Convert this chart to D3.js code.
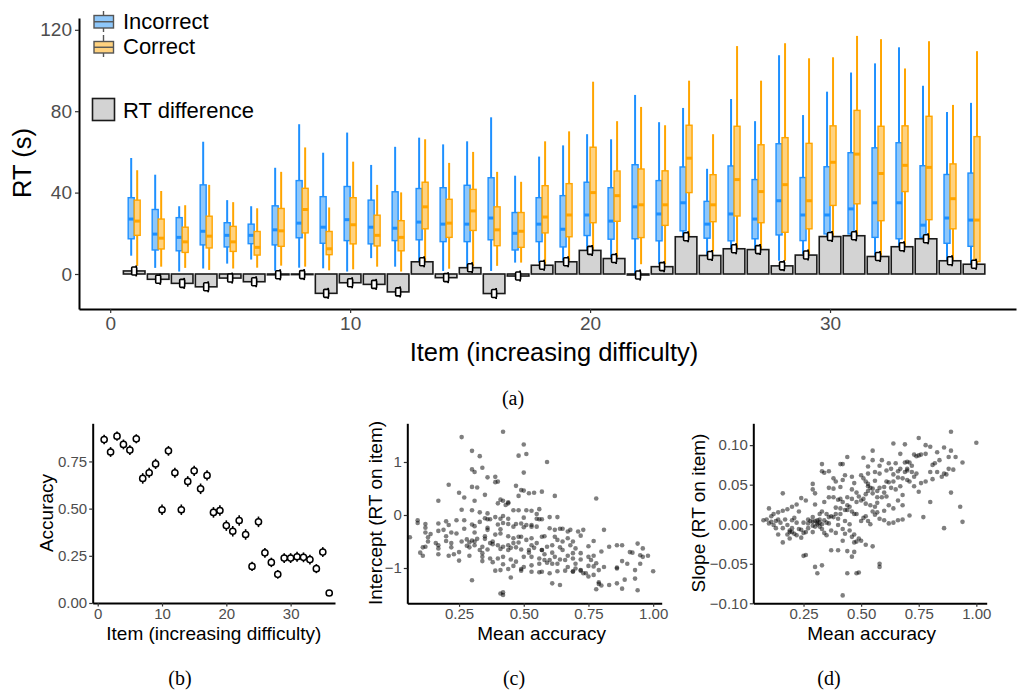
<!DOCTYPE html>
<html>
<head>
<meta charset="utf-8">
<script src="https://cdn.jsdelivr.net/npm/d3@7"></script>
<style>
  body { margin: 0; background: #fff; }
  text { font-family: "Liberation Sans", Arial, sans-serif; }
  .cap { font-family: "Liberation Serif", "DejaVu Serif", serif; }
</style>
</head>
<body>
<svg id="main-svg"></svg>
<script>
// DATA
const ITEMS = [1,2,3,4,5,6,7,8,9,10,11,12,13,14,15,16,17,18,19,20,21,22,23,24,25,26,27,28,29,30,31,32,33,34,35,36]

// incorrect responses: whisker low, q1, median, q3, whisker high (s)
const INC_LOW  = [9,3,1.2,2.7,5.1,7.1,1.6,3.1,2.8,1.2,7.8,3.6,4,1.5,3.1,1.5,5.6,5.6,6.5,11.4,8.1,0,4.8,18,9.3,11.4,12.3,6.5,9.8,18.4,18.8,9,13.4,17.3,6.1,4.8]
const INC_Q1   = [17.3,11.8,11.4,14.3,13.3,14.9,14.3,17.8,15.1,16.4,14.8,16.4,16.8,15.9,15.9,16.8,11.8,15.9,13.3,18.9,17.1,17.3,16.3,21.2,17.6,16.3,17.3,19.2,16.4,19.7,19.7,18,17.3,18,15.1,13.6]
const INC_MED  = [27,19.6,18,21,19,19,21.7,25,23,26.7,23,22.5,25.5,24.5,24.5,27.5,20,24.5,22,29,26,33,29.5,35,24.5,29.5,27,36,29,29,32,35,35,24,27.5,26.5]
const INC_Q3   = [37.5,31.7,27.7,43.8,25.2,24.5,33.5,45.9,38,43,36.3,40.4,42,42.4,43.6,47.3,30.2,37.5,38.5,45.1,42.4,53.7,45.9,52.6,35.7,53.1,46.4,64,47.4,52.7,59.6,62,64.5,53.2,48.9,49.6]
const INC_HIGH = [57,48.8,33.3,65,36.3,33.3,52.2,73.6,59.6,69.5,53.6,62.5,67,63.7,65.2,77,48.3,57.7,63.2,68.7,66.2,88,74.6,81.6,51.7,86,75.1,107.5,78.1,89.6,99,103.5,111.4,92.5,79.6,84.1]

// correct responses
const COR_LOW  = [4,3.6,3,2,2.7,3.1,4.1,3.6,1.8,2.3,3.6,1.2,5.6,2.6,3.8,4,5.6,3,6.5,11.4,8.1,4.8,4.8,18,11,12.4,12.3,6.5,9.8,18.4,18.8,9,13.4,17.3,6.1,3.1]
const COR_Q1   = [19,12.3,10.6,12.8,11.1,9.3,13.6,20.2,9.5,14.8,13.8,11.4,22.2,18,21.4,13.9,13.1,20.2,18.3,25.2,25.9,17.9,23.9,40,25.7,28.5,25.2,20.5,22.2,33.7,34.5,26.2,40.5,26.7,22.2,6.1]
const COR_MED  = [26,17.6,15.8,18.6,15.8,13.1,21.2,31.7,12.4,24.2,19,18,33,25,31,21.7,21,28,29,40,38.5,34,34,56.9,34,46.4,40.5,43.9,36,54.9,58.9,49.4,53.4,52.4,37,26.5]
const COR_Q3   = [36.3,27,23,28.4,23.4,20.9,32.2,42.1,20.9,37.5,28.9,26.2,45.1,36.7,41.6,33,30.2,43.4,44.4,62.3,50.6,51.6,50.7,73.1,48.8,72.6,63.5,67,64.2,72.8,80.4,72.6,72.8,77.5,54.1,67.5]
const COR_HIGH = [51,40.8,33.8,43.8,35.3,32.3,50.2,62.2,32.7,55.2,43.8,40.1,66.2,54.6,60,50.2,45.3,65.2,70.1,94.5,75.1,82.1,73.1,95,68.7,112,95,113.4,106,106.5,117,115.4,101,114.4,83.1,109.5]

// RT difference (correct - incorrect)
const RT_DIFF = [1.5,-2.6,-4.6,-6.3,-2,-3.8,-0.4,-0.3,-9.5,-4.3,-5.1,-8.8,6,-1.8,3.1,-9.6,-1,4.3,6,11.6,7.6,-0.5,3.6,18.3,9.1,12.4,12,4,9.3,18.4,18.8,8.6,13.4,17.3,6.5,4.8]

// panel (b)
const ACCURACY = [0.866,0.80,0.884,0.84,0.81,0.87,0.66,0.69,0.737,0.494,0.806,0.69,0.494,0.644,0.70,0.605,0.676,0.48,0.49,0.41,0.38,0.437,0.363,0.194,0.43,0.266,0.215,0.152,0.238,0.238,0.245,0.242,0.23,0.182,0.27,0.053]
const ACCURACY_ERR = [0.025,0.026,0.024,0.026,0.026,0.024,0.028,0.027,0.027,0.028,0.026,0.027,0.028,0.028,0.027,0.028,0.027,0.028,0.028,0.028,0.028,0.028,0.028,0.024,0.028,0.026,0.025,0.023,0.026,0.026,0.026,0.026,0.026,0.024,0.026,0.014]

// panel (c): [mean accuracy, intercept]
const INTERCEPT_POINTS = [
  [0.26,1.47],[0.42,1.57],[0.50,1.33],[0.30,1.21],[0.33,1.11],[0.48,1.12],[0.51,1.15],[0.59,1.00],[0.30,0.86],[0.34,0.89],
  [0.31,0.81],[0.50,0.80],[0.39,0.72],[0.40,0.63],[0.36,0.71],[0.47,0.55],[0.21,0.57],[0.39,0.62],[0.49,0.47],[0.50,0.46],
  [0.32,0.52],[0.30,0.53],[0.25,0.42],[0.27,0.33],[0.35,0.38],[0.41,0.29],[0.44,0.24],[0.42,0.27],[0.57,0.44],[0.48,0.36],
  [0.52,0.41],[0.54,0.42],[0.62,0.36],[0.17,0.27],[0.31,0.27],[0.40,0.22],[0.43,0.19],[0.44,0.22],[0.56,0.11],[0.46,0.09],
  [0.48,0.09],[0.53,0.08],[0.51,0.09],[0.26,0.10],[0.30,0.09],[0.33,0.05],[0.36,0.03],[0.42,-0.02],[0.37,-0.08],[0.39,-0.04],
  [0.41,-0.07],[0.44,-0.07],[0.50,-0.05],[0.55,0.02],[0.55,-0.07],[0.56,-0.08],[0.57,-0.08],[0.60,-0.04],[0.63,-0.04],[0.09,-0.10],
  [0.09,-0.15],[0.12,-0.17],[0.20,-0.12],[0.24,-0.10],[0.27,-0.10],[0.30,-0.18],[0.33,-0.13],[0.35,-0.06],[0.36,-0.08],[0.40,-0.18],
  [0.42,-0.15],[0.44,-0.17],[0.47,-0.17],[0.49,-0.16],[0.51,-0.19],[0.53,-0.19],[0.64,-0.26],[0.65,-0.26],[0.68,-0.28],[0.71,-0.31],
  [0.73,-0.28],[0.81,-0.28],[0.12,-0.24],[0.17,-0.16],[0.21,-0.19],[0.31,-0.21],[0.36,-0.24],[0.41,-0.27],[0.46,-0.22],[0.50,-0.23],
  [0.53,-0.22],[0.55,-0.22],[0.60,-0.25],[0.62,-0.28],[0.67,-0.31],[0.06,-0.42],[0.12,-0.33],[0.14,-0.36],[0.13,-0.42],[0.17,-0.30],
  [0.19,-0.28],[0.20,-0.40],[0.22,-0.33],[0.24,-0.35],[0.27,-0.26],[0.31,-0.33],[0.32,-0.45],[0.35,-0.40],[0.36,-0.28],[0.39,-0.37],
  [0.41,-0.35],[0.44,-0.40],[0.46,-0.44],[0.48,-0.41],[0.49,-0.41],[0.51,-0.47],[0.53,-0.44],[0.57,-0.41],[0.58,-0.40],[0.62,-0.41],
  [0.63,-0.47],[0.65,-0.50],[0.67,-0.44],[0.69,-0.50],[0.72,-0.39],[0.77,-0.49],[0.13,-0.50],[0.16,-0.53],[0.17,-0.57],[0.20,-0.49],
  [0.22,-0.53],[0.26,-0.50],[0.28,-0.46],[0.30,-0.48],[0.31,-0.50],[0.34,-0.60],[0.37,-0.53],[0.38,-0.50],[0.40,-0.57],[0.42,-0.60],
  [0.44,-0.57],[0.46,-0.53],[0.48,-0.52],[0.53,-0.57],[0.55,-0.53],[0.57,-0.66],[0.59,-0.60],[0.61,-0.57],[0.64,-0.61],[0.68,-0.57],
  [0.70,-0.63],[0.75,-0.59],[0.83,-0.60],[0.86,-0.57],[0.88,-0.57],[0.92,-0.71],[0.94,-0.54],[0.95,-0.76],[0.96,-0.79],[0.11,-0.61],
  [0.12,-0.60],[0.17,-0.63],[0.22,-0.61],[0.25,-0.70],[0.29,-0.61],[0.33,-0.66],[0.34,-0.72],[0.36,-0.65],[0.41,-0.64],[0.44,-0.66],
  [0.47,-0.61],[0.49,-0.65],[0.52,-0.71],[0.57,-0.66],[0.61,-0.71],[0.65,-0.66],[0.69,-0.72],[0.72,-0.72],[0.75,-0.79],[0.77,-0.77],
  [0.80,-0.69],[0.91,-0.70],[0.96,-0.63],[0.10,-0.71],[0.11,-0.77],[0.17,-0.74],[0.21,-0.77],[0.23,-0.74],[0.29,-0.77],[0.34,-0.79],
  [0.37,-0.82],[0.40,-0.82],[0.42,-0.79],[0.45,-0.84],[0.47,-0.88],[0.50,-0.79],[0.53,-0.79],[0.56,-0.82],[0.58,-0.85],[0.62,-0.79],
  [0.64,-0.84],[0.67,-0.77],[0.69,-0.82],[0.72,-0.84],[0.76,-0.85],[0.78,-0.91],[0.88,-0.87],[0.90,-0.92],[0.98,-0.77],[0.25,-0.86],
  [0.34,-0.87],[0.38,-0.89],[0.42,-0.93],[0.46,-0.96],[0.50,-0.98],[0.53,-0.95],[0.56,-0.92],[0.59,-0.90],[0.63,-0.92],[0.67,-0.98],
  [0.70,-1.01],[0.72,-1.04],[0.75,-0.96],[0.77,-0.97],[0.81,-0.98],[0.86,-0.99],[0.41,-1.04],[0.44,-1.02],[0.49,-1.05],[0.53,-1.07],
  [0.57,-1.07],[0.60,-1.10],[0.63,-1.06],[0.66,-1.05],[0.69,-1.06],[0.72,-1.05],[0.73,-1.10],[0.77,-1.13],[0.79,-1.04],[0.86,-1.01],
  [0.93,-1.04],[0.95,-0.92],[0.39,-1.05],[0.45,-1.18],[0.49,-1.02],[0.56,-1.08],[0.69,-1.07],[0.74,-1.10],[0.75,-1.16],[0.79,-1.27],
  [0.80,-1.33],[0.78,-1.40],[0.79,-1.30],[0.83,-1.32],[0.86,-1.29],[0.89,-1.22],[0.93,-1.20],[0.94,-1.42],[0.88,-1.39],[0.61,-1.29],
  [0.64,-1.32],[0.30,-1.23],[0.42,-1.46],[0.42,-1.51],[0.41,-1.48],[1.00,-1.06],[0.78,0.31],[0.35,-0.45],[0.45,-0.62],[0.52,-0.66],
  [0.54,-0.62],[0.58,-0.74],[0.60,-0.85],[0.61,-0.92],[0.66,-0.85],[0.70,-0.92],[0.38,-0.55],[0.31,-0.57],[0.29,-0.52],[0.28,-0.58]
]

// panel (d): [mean accuracy, slope]
const SLOPE_POINTS = [
  [0.89,0.117],[0.75,0.109],[1.00,0.103],[0.64,0.102],[0.69,0.101],[0.78,0.100],[0.55,0.093],[0.80,0.098],[0.86,0.097],[0.83,0.091],
  [0.89,0.093],[0.67,0.089],[0.73,0.088],[0.74,0.086],[0.75,0.087],[0.76,0.088],[0.78,0.089],[0.88,0.085],[0.91,0.085],[0.94,0.078],
  [0.84,0.081],[0.82,0.077],[0.81,0.075],[0.59,0.081],[0.55,0.081],[0.51,0.084],[0.44,0.085],[0.33,0.076],[0.41,0.076],[0.42,0.076],
  [0.36,0.067],[0.34,0.065],[0.33,0.067],[0.53,0.073],[0.58,0.074],[0.62,0.077],[0.65,0.077],[0.69,0.078],[0.70,0.079],[0.71,0.078],
  [0.72,0.074],[0.70,0.070],[0.67,0.070],[0.66,0.067],[0.63,0.070],[0.61,0.068],[0.58,0.064],[0.56,0.066],[0.53,0.064],[0.50,0.062],
  [0.46,0.060],[0.43,0.062],[0.39,0.054],[0.38,0.058],[0.29,0.051],[0.16,0.039],[0.30,0.039],[0.29,0.044],[0.36,0.046],[0.38,0.045],
  [0.41,0.047],[0.42,0.056],[0.47,0.052],[0.51,0.058],[0.52,0.054],[0.53,0.048],[0.54,0.046],[0.55,0.039],[0.57,0.042],[0.58,0.046],
  [0.60,0.047],[0.61,0.054],[0.62,0.053],[0.64,0.054],[0.66,0.059],[0.68,0.058],[0.70,0.056],[0.71,0.054],[0.73,0.060],[0.74,0.064],
  [0.76,0.052],[0.78,0.054],[0.81,0.057],[0.83,0.066],[0.85,0.060],[0.86,0.064],[0.88,0.070],[0.90,0.069],[0.87,0.063],[0.89,0.040],
  [0.80,0.028],[0.77,0.009],[0.86,-0.005],[0.93,0.022],[0.94,0.003],[0.80,0.066],[0.75,0.041],[0.73,0.048],[0.68,0.037],[0.66,0.030],
  [0.68,0.024],[0.64,0.020],[0.62,0.024],[0.61,0.035],[0.59,0.034],[0.57,0.027],[0.56,0.022],[0.54,0.024],[0.52,0.026],[0.51,0.032],
  [0.49,0.035],[0.48,0.028],[0.46,0.032],[0.44,0.034],[0.42,0.028],[0.41,0.032],[0.40,0.031],[0.38,0.034],[0.36,0.034],[0.34,0.028],
  [0.30,0.025],[0.26,0.030],[0.24,0.033],[0.22,0.025],[0.20,0.022],[0.18,0.019],[0.16,0.017],[0.14,0.015],[0.12,0.013],[0.10,0.020],
  [0.076,0.005],[0.09,0.006],[0.11,0.010],[0.11,0.003],[0.12,-0.001],[0.14,0.006],[0.15,0.002],[0.16,-0.005],[0.18,-0.001],[0.20,0.005],
  [0.22,0.002],[0.23,-0.006],[0.24,-0.007],[0.25,-0.011],[0.27,0.006],[0.29,0.009],[0.31,0.005],[0.32,0.013],[0.33,0.016],[0.35,0.013],
  [0.37,0.010],[0.38,0.009],[0.40,0.007],[0.41,0.013],[0.43,0.018],[0.44,0.018],[0.46,0.016],[0.47,0.013],[0.48,0.013],[0.51,0.008],
  [0.53,0.004],[0.54,0.000],[0.56,0.012],[0.58,0.007],[0.60,0.005],[0.62,0.001],[0.64,0.002],[0.66,0.005],[0.68,0.006],[0.71,0.011],
  [0.10,0.001],[0.13,-0.005],[0.18,-0.013],[0.19,-0.018],[0.16,-0.023],[0.19,-0.008],[0.22,-0.014],[0.24,-0.017],[0.26,-0.010],[0.25,0.002],
  [0.27,0.001],[0.29,-0.002],[0.29,-0.010],[0.31,0.002],[0.32,-0.003],[0.33,-0.006],[0.34,-0.011],[0.35,-0.014],[0.36,0.001],[0.37,-0.008],
  [0.39,-0.011],[0.40,-0.001],[0.42,-0.006],[0.43,-0.012],[0.45,-0.008],[0.46,-0.016],[0.47,-0.013],[0.49,-0.018],[0.50,-0.021],[0.52,-0.026],
  [0.55,-0.028],[0.58,-0.054],[0.47,-0.023],[0.48,-0.022],[0.42,-0.021],[0.44,-0.034],[0.47,-0.035],[0.46,-0.041],[0.40,-0.033],[0.37,-0.033],
  [0.33,-0.052],[0.30,-0.054],[0.31,-0.062],[0.26,-0.039],[0.25,-0.040],[0.44,-0.062],[0.49,-0.061],[0.48,-0.062],[0.42,-0.090],[0.58,-0.050],
  [0.30,0.004],[0.31,0.000],[0.32,0.002],[0.33,0.000],[0.30,-0.003],[0.32,0.006],[0.20,-0.010],[0.20,-0.005],[0.21,-0.012],[0.19,-0.010],
  [0.28,0.004],[0.29,0.003],[0.34,0.005],[0.35,0.002],[0.36,0.009],[0.44,0.024],[0.45,0.022],[0.50,0.030],[0.52,0.038],[0.53,0.042],
  [0.55,0.045],[0.57,0.034],[0.60,0.040],[0.63,0.046],[0.65,0.044],[0.67,0.048],[0.69,0.066],[0.70,0.068],[0.72,0.066],[0.64,0.063],
  [0.56,0.055],[0.53,0.051],[0.48,0.040],[0.46,0.044],[0.41,0.020],[0.39,0.021],[0.39,0.013],[0.43,0.004],[0.45,0.000],[0.50,0.004],
  [0.52,0.010],[0.55,0.016],[0.57,0.015],[0.60,0.017],[0.27,-0.005],[0.23,0.016],[0.21,0.008],[0.17,0.006],[0.13,0.004],[0.14,-0.013]
]

// LAYOUT
const WIDTH = 1018
const HEIGHT = 692
const BLUE = "#1e90ff"
const BLUE_FILL = "#8ec7fa"
const ORANGE = "#ffa500"
const ORANGE_FILL = "#ffd27f"
const TICK_TEXT = "#4d4d4d"
const SMALL_TICK_FONT = 15
const SMALL_TITLE_FONT = 19
const SMALL_TITLE_Y = 640

const svg = d3.select("#main-svg").attr("width", WIDTH).attr("height", HEIGHT)
svg.append("rect").attr("width", WIDTH).attr("height", HEIGHT).attr("fill", "#fff")

function styleAxis(g, fontSize) {
  g.select(".domain").attr("stroke", "#000").attr("stroke-width", 2)
  g.selectAll(".tick line").attr("stroke", "#333").attr("stroke-width", 1.2)
  g.selectAll(".tick text")
    .attr("fill", TICK_TEXT)
    .style("font-size", fontSize + "px")
    .style("font-family", "'Liberation Sans', Arial, sans-serif")
}

// ---------- panel (a) ----------
const xA = d3.scaleLinear().domain([-1.3, 37.75]).range([79, 1016])
const yA = d3.scaleLinear().domain([-17.2, 125.8]).range([309, 18])
const BOX_W = 6
const BAR_W = 21.6

const gA = svg.append("g")

function drawBox(cx, lo, q1, med, q3, hi, stroke, fill) {
  gA.append("line")
    .attr("x1", cx).attr("x2", cx)
    .attr("y1", yA(lo)).attr("y2", yA(hi))
    .attr("stroke", stroke).attr("stroke-width", 2)
  gA.append("rect")
    .attr("x", cx - BOX_W / 2).attr("width", BOX_W)
    .attr("y", yA(q3)).attr("height", yA(q1) - yA(q3))
    .attr("fill", fill).attr("stroke", stroke).attr("stroke-width", 1.4)
  gA.append("line")
    .attr("x1", cx - BOX_W / 2).attr("x2", cx + BOX_W / 2)
    .attr("y1", yA(med)).attr("y2", yA(med))
    .attr("stroke", stroke).attr("stroke-width", 3)
}

ITEMS.forEach((item, i) => {
  const cx = xA(item)
  drawBox(cx - 3, INC_LOW[i], INC_Q1[i], INC_MED[i], INC_Q3[i], INC_HIGH[i], BLUE, BLUE_FILL)
  drawBox(cx + 3, COR_LOW[i], COR_Q1[i], COR_MED[i], COR_Q3[i], COR_HIGH[i], ORANGE, ORANGE_FILL)
})

// difference bars drawn over the lower whiskers
gA.selectAll("rect.diff")
  .data(RT_DIFF)
  .join("rect")
  .attr("class", "diff")
  .attr("x", (d, i) => xA(ITEMS[i]) - BAR_W / 2)
  .attr("width", BAR_W)
  .attr("y", d => yA(Math.max(0, d)))
  .attr("height", d => Math.abs(yA(d) - yA(0)))
  .attr("fill", "#d3d3d3")
  .attr("stroke", "#1a1a1a")
  .attr("stroke-width", 1.6)

// small interval glyph on top of each bar
RT_DIFF.forEach((d, i) => {
  const cx = xA(ITEMS[i])
  const cy = yA(d)
  gA.append("line")
    .attr("x1", cx + 2).attr("x2", cx + 2)
    .attr("y1", cy - 5.5).attr("y2", cy + 5.5)
    .attr("stroke", "#000").attr("stroke-width", 1.8)
  gA.append("rect")
    .attr("x", cx - 2.5).attr("width", 5)
    .attr("y", cy - 4).attr("height", 8)
    .attr("rx", 1)
    .attr("fill", "#fff").attr("stroke", "#000").attr("stroke-width", 1.6)
})

const axA_x = gA.append("g").attr("transform", "translate(0,309)")
  .call(d3.axisBottom(xA).tickValues([0, 10, 20, 30]).tickSize(4).tickSizeOuter(0).tickPadding(4))
styleAxis(axA_x, 19)
const axA_y = gA.append("g").attr("transform", "translate(79,0)")
  .call(d3.axisLeft(yA).tickValues([0, 40, 80, 120]).tickSize(4).tickSizeOuter(0).tickPadding(3))
styleAxis(axA_y, 19)

gA.append("text").attr("x", 554).attr("y", 361)
  .attr("text-anchor", "middle").style("font-size", "25.5px")
  .text("Item (increasing difficulty)")
gA.append("text").attr("transform", "translate(31,163) rotate(-90)")
  .attr("text-anchor", "middle").style("font-size", "25.5px")
  .text("RT (s)")

// legend
function legendBox(y0, y1, w0, w1, fill) {
  gA.append("line").attr("x1", 103.5).attr("x2", 103.5).attr("y1", w0).attr("y2", w1)
    .attr("stroke", "#555").attr("stroke-width", 1.4)
  gA.append("rect").attr("x", 94).attr("width", 19.5).attr("y", y0).attr("height", y1 - y0)
    .attr("fill", fill).attr("stroke", "#555").attr("stroke-width", 1.4)
  gA.append("line").attr("x1", 94).attr("x2", 113.5).attr("y1", (y0 + y1) / 2).attr("y2", (y0 + y1) / 2)
    .attr("stroke", "#555").attr("stroke-width", 1.4)
}
legendBox(15.5, 28, 11, 32, BLUE_FILL)
legendBox(41.5, 53, 35, 57, ORANGE_FILL)
gA.append("text").attr("x", 123).attr("y", 29.3).style("font-size", "22px").text("Incorrect")
gA.append("text").attr("x", 123).attr("y", 53.5).style("font-size", "22px").text("Correct")
gA.append("rect").attr("x", 92.5).attr("y", 98.5).attr("width", 22).attr("height", 22)
  .attr("fill", "#d3d3d3").attr("stroke", "#1a1a1a").attr("stroke-width", 1.6)
gA.append("text").attr("x", 123).attr("y", 118).style("font-size", "22px").text("RT difference")

// ---------- panel (b) ----------
const xB = d3.scaleLinear().domain([-0.78, 36.9]).range([92.7, 335])
const yB = d3.scaleLinear().domain([0, 0.952]).range([603, 423.3])
const gB = svg.append("g")

gB.selectAll("line.err")
  .data(ACCURACY)
  .join("line")
  .attr("class", "err")
  .attr("x1", (d, i) => xB(ITEMS[i])).attr("x2", (d, i) => xB(ITEMS[i]))
  .attr("y1", (d, i) => yB(d - ACCURACY_ERR[i])).attr("y2", (d, i) => yB(d + ACCURACY_ERR[i]))
  .attr("stroke", "#000").attr("stroke-width", 1.6)
gB.selectAll("circle")
  .data(ACCURACY)
  .join("circle")
  .attr("cx", (d, i) => xB(ITEMS[i]))
  .attr("cy", d => yB(d))
  .attr("r", 3.1)
  .attr("fill", "#fff").attr("stroke", "#000").attr("stroke-width", 1.5)

const axB_x = gB.append("g").attr("transform", "translate(0,603)")
  .call(d3.axisBottom(xB).tickValues([0, 10, 20, 30]).tickSize(3.5).tickSizeOuter(0).tickPadding(2))
styleAxis(axB_x, SMALL_TICK_FONT)
const axB_y = gB.append("g").attr("transform", "translate(92.7,0)")
  .call(d3.axisLeft(yB).tickValues([0, 0.25, 0.5, 0.75]).tickFormat(d3.format(".2f")).tickSize(3.5).tickSizeOuter(0).tickPadding(2))
styleAxis(axB_y, SMALL_TICK_FONT)
gB.append("text").attr("x", 213.8).attr("y", SMALL_TITLE_Y).attr("text-anchor", "middle")
  .style("font-size", SMALL_TITLE_FONT + "px").text("Item (increasing difficulty)")
gB.append("text").attr("transform", "translate(53,513) rotate(-90)").attr("text-anchor", "middle")
  .style("font-size", SMALL_TITLE_FONT + "px").text("Accuracy")

// ---------- panel (c) ----------
const xC = d3.scaleLinear().domain([0.05, 1.033]).range([407.3, 661.7])
const yC = d3.scaleLinear().domain([-1.666, 1.73]).range([603.3, 423.3])
const gC = svg.append("g")
gC.selectAll("circle")
  .data(INTERCEPT_POINTS)
  .join("circle")
  .attr("cx", d => xC(d[0])).attr("cy", d => yC(d[1]))
  .attr("r", 2.3).attr("fill", "#000").attr("fill-opacity", 0.5)
const axC_x = gC.append("g").attr("transform", "translate(0,603.3)")
  .call(d3.axisBottom(xC).tickValues([0.25, 0.5, 0.75, 1]).tickFormat(d3.format(".2f")).tickSize(3.5).tickSizeOuter(0).tickPadding(2))
styleAxis(axC_x, SMALL_TICK_FONT)
const axC_y = gC.append("g").attr("transform", "translate(407.3,0)")
  .call(d3.axisLeft(yC).tickValues([-1, 0, 1]).tickFormat(d3.format("d")).tickSize(3.5).tickSizeOuter(0).tickPadding(2))
styleAxis(axC_y, SMALL_TICK_FONT)
gC.append("text").attr("x", 541.7).attr("y", SMALL_TITLE_Y).attr("text-anchor", "middle")
  .style("font-size", SMALL_TITLE_FONT + "px").text("Mean accuracy")
gC.append("text").attr("transform", "translate(382,513) rotate(-90)").attr("text-anchor", "middle")
  .style("font-size", SMALL_TITLE_FONT + "px").text("Intercept (RT on item)")

// ---------- panel (d) ----------
const xD = d3.scaleLinear().domain([0.032, 1.045]).range([753.3, 986.7])
const yD = d3.scaleLinear().domain([-0.1, 0.1276]).range([603.3, 423.3])
const gD = svg.append("g")
gD.selectAll("circle")
  .data(SLOPE_POINTS)
  .join("circle")
  .attr("cx", d => xD(d[0])).attr("cy", d => yD(d[1]))
  .attr("r", 2.3).attr("fill", "#000").attr("fill-opacity", 0.5)
const axD_x = gD.append("g").attr("transform", "translate(0,603.3)")
  .call(d3.axisBottom(xD).tickValues([0.25, 0.5, 0.75, 1]).tickFormat(d3.format(".2f")).tickSize(3.5).tickSizeOuter(0).tickPadding(2))
styleAxis(axD_x, SMALL_TICK_FONT)
const axD_y = gD.append("g").attr("transform", "translate(753.3,0)")
  .call(d3.axisLeft(yD).tickValues([-0.1, -0.05, 0, 0.05, 0.1]).tickFormat(d3.format(".2f")).tickSize(3.5).tickSizeOuter(0).tickPadding(2))
styleAxis(axD_y, SMALL_TICK_FONT)
gD.append("text").attr("x", 871.7).attr("y", SMALL_TITLE_Y).attr("text-anchor", "middle")
  .style("font-size", SMALL_TITLE_FONT + "px").text("Mean accuracy")
gD.append("text").attr("transform", "translate(705,513) rotate(-90)").attr("text-anchor", "middle")
  .style("font-size", SMALL_TITLE_FONT + "px").text("Slope (RT on item)")

// captions
const CAPTIONS = [["(a)", 513, 405], ["(b)", 180, 685], ["(c)", 514, 685], ["(d)", 829, 685]]
svg.selectAll("text.cap")
  .data(CAPTIONS)
  .join("text")
  .attr("class", "cap")
  .attr("x", d => d[1]).attr("y", d => d[2])
  .attr("text-anchor", "middle")
  .style("font-size", "20px")
  .text(d => d[0])
</script>
</body>
</html>
